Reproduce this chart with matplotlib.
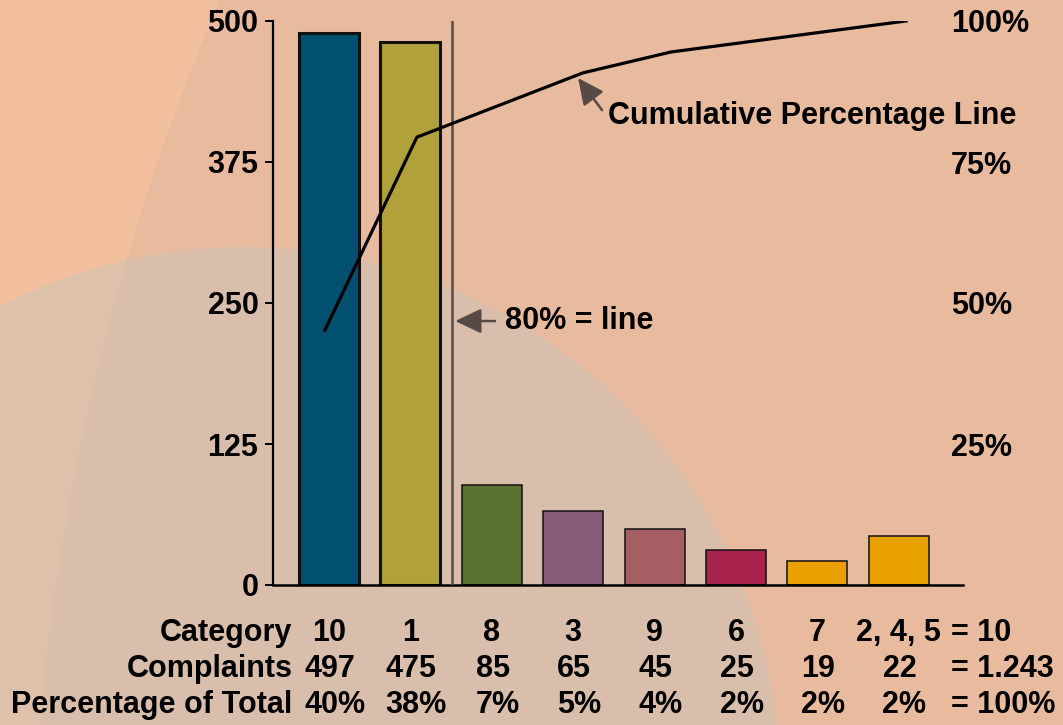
import matplotlib
matplotlib.use("Agg")
import matplotlib.pyplot as plt
from matplotlib.patches import Circle, Rectangle

plt.rcParams['font.family'] = ['Liberation Sans', 'DejaVu Sans']
plt.rcParams['font.weight'] = 'bold'

# data
categories = ["10", "1", "8", "3", "9", "6", "7", "2, 4, 5"]
complaints = ["497", "475", "85", "65", "45", "25", "19", "22"]
pct_of_total = ["40%", "38%", "7%", "5%", "4%", "2%", "2%", "2%"]
totals = ["= 10", "= 1.243", "= 100%"]
row_labels = ["Category", "Complaints", "Percentage of Total"]

# bar heights as drawn (left axis units)
bar_heights = [489, 481, 89, 66, 50, 31, 21, 43]
bar_colors = ["#02506f", "#b0a13a", "#5b712f", "#875b78", "#a55f63",
              "#a8234c", "#e9a000", "#e9a100"]

# cumulative percentage line (x in bar slots, y in percent)
cum_x = [-0.05, 1.08, 3.12, 4.2, 7.09]
cum_pct = [45.2, 79.4, 90.8, 94.5, 100]

left_ticks = [0, 125, 250, 375, 500]
right_ticks = [25, 50, 75, 100]
cutoff_x = 1.51

FS = 22
W, H = 1063, 725

fig = plt.figure(figsize=(W / 100, H / 100), dpi=100)

# ---- background shapes (pixel coords) ----
bg = fig.add_axes([0, 0, 1, 1])
bg.set_xlim(0, W)
bg.set_ylim(H, 0)
bg.axis('off')
bg.add_patch(Rectangle((0, 0), W, H, color="#f2c09e", zorder=0))
bg.add_patch(Circle((2393, 924), 2361, color="#e8bb9e", zorder=1))
bg.add_patch(Circle((245, 782), 535, color="#ccc3b8", alpha=0.5, zorder=2, lw=0))

# ---- main axes ----
ax = fig.add_axes([272.5 / W, 1 - 585 / H, (963 - 272.5) / W, 564 / H])
ax.set_facecolor('none')
x = list(range(len(bar_heights)))
for i in x:
    lw = 2.2 if i < 2 else 1.1
    ax.bar(i, bar_heights[i], width=0.737, color=bar_colors[i],
           edgecolor="#111111", linewidth=lw, zorder=2)

ax.set_xlim(-0.694, 7.79)
ax.set_ylim(0, 500)
ax.set_xticks([])
ax.set_yticks(left_ticks)
ax.set_yticklabels([str(t) for t in left_ticks])
ax.tick_params(axis='y', length=5.8, width=1.44, pad=4.3, labelsize=FS)
for s in ['top', 'right']:
    ax.spines[s].set_visible(False)
ax.spines['left'].set_linewidth(1.6)
ax.spines['bottom'].set_linewidth(1.8)

arrow = dict(arrowstyle="-|>,head_length=0.8,head_width=0.38",
             mutation_scale=20, color="#574a44", lw=1.8,
             shrinkA=0, shrinkB=0)

# 80% cut-off line
ax.axvline(cutoff_x, ymin=0, ymax=1, color="#5a4a44", lw=1.8, zorder=3)
ax.annotate("", xy=(1.55, 234), xytext=(2.04, 234), arrowprops=arrow)
ax.text(2.16, 234, "80% = line", fontsize=FS, va='center', ha='left')

# right percentage axis + cumulative line
ax2 = ax.twinx()
ax2.set_ylim(0, 100)
ax2.set_yticks(right_ticks)
ax2.set_yticklabels([f"{t}%" for t in right_ticks])
ax2.tick_params(axis='y', length=0, pad=-8.6, labelsize=FS)
for s in ax2.spines.values():
    s.set_visible(False)
ax2.plot(cum_x, cum_pct, color="black", lw=2.3, zorder=5)

ax.annotate("", xy=(3.06, 449.5), xytext=(3.355, 421), arrowprops=arrow)
ax.text(3.43, 416, "Cumulative Percentage Line", fontsize=FS,
        va='center', ha='left')

# table under the chart
trans = ax.get_xaxis_transform()
rows = [categories, complaints, pct_of_total]
row_y = [-0.0993, -0.1631, -0.227]
row_dx = [0.0, 0.01, 0.07]
for r, vals in enumerate(rows):
    ax.text(-0.45, row_y[r], row_labels[r], transform=trans, fontsize=FS,
            ha='right', va='baseline')
    for i, v in enumerate(vals):
        ax.text(i + row_dx[r], row_y[r], v, transform=trans, fontsize=FS,
                ha='center', va='baseline')
    ax.text(7.64, row_y[r], totals[r], transform=trans, fontsize=FS,
            ha='left', va='baseline')

fig.savefig("out.png", dpi=100)
